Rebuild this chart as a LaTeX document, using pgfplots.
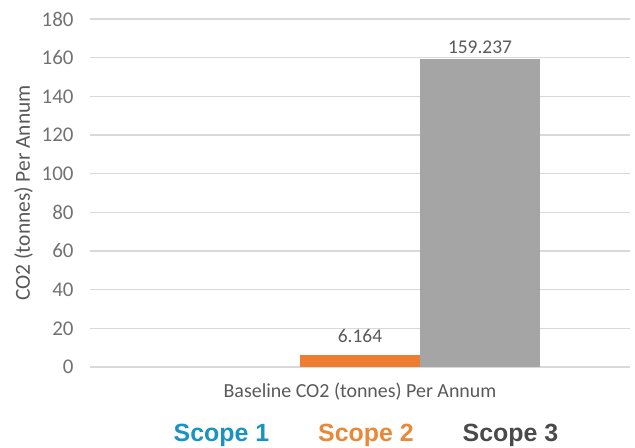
\documentclass[border=0pt]{standalone}
\usepackage{fontspec}
\setmainfont{Carlito}
\newfontfamily\legfont{Liberation Sans}
\usepackage{pgfplots}
\pgfplotsset{compat=1.18}
\definecolor{txtgray}{HTML}{595959}
\definecolor{gridgray}{HTML}{D9D9D9}
\definecolor{barorange}{HTML}{ED7D31}
\definecolor{bargray}{HTML}{A5A5A5}
\definecolor{barblue}{HTML}{4472C4}
\definecolor{s1}{HTML}{1A93C4}
\definecolor{s2}{HTML}{E8893A}
\definecolor{s3}{HTML}{4A4A4A}
\begin{document}
\begin{tikzpicture}[x=1bp,y=1bp]
\useasboundingbox (-90,-81) rectangle (545,367);
\begin{axis}[
  at={(0,0)}, anchor=south west,
  scale only axis, width=540bp, height=348bp,
  ybar=0pt, bar width=120bp,
  xmin=-1, xmax=1, ymin=0, ymax=180,
  ytick distance=20, xtick={0},
  xticklabels={Baseline CO2 (tonnes) Per Annum},
  axis line style={draw=none},
  major tick length=0pt,
  ymajorgrids, major grid style={gridgray, line width=1.2pt},
  tick label style={font=\fontsize{20}{22}\selectfont, text=txtgray},
  yticklabel style={font=\fontsize{21}{24}\selectfont, xshift=-13bp, text=txtgray!85},
  /pgf/number format/assume math mode=true,
  xticklabel style={yshift=-12bp},
  ylabel={CO2 (tonnes) Per Annum},
  ylabel style={font=\fontsize{21.5}{24}\selectfont, text=txtgray, yshift=2bp},
  clip=false,
  legend columns=3,
  legend image code/.code={},
  legend style={draw=none, fill=none, at={(0.511,-0.19)}, anchor=center,
    font=\legfont\bfseries\fontsize{25}{28}\selectfont,
    /tikz/every even column/.append style={column sep=45bp},
    inner sep=0pt},
  nodes near coords style={font=\fontsize{19.5}{22}\selectfont, text=txtgray, yshift=2bp},
  point meta=explicit symbolic,
]
% Scope 1 is zero: no visible bar
\addplot+[draw=none, fill=none] coordinates {(0,0) []};
\addplot+[draw=none, fill=barorange, nodes near coords,
  every node near coord/.append style={yshift=7bp}] coordinates {(0,6.164) [6.164]};
\addplot+[draw=none, fill=bargray, nodes near coords] coordinates {(0,159.237) [159.237]};
\legend{\textcolor{s1}{Scope 1},\textcolor{s2}{Scope 2},\textcolor{s3}{Scope 3}}
\end{axis}
\end{tikzpicture}
\end{document}
